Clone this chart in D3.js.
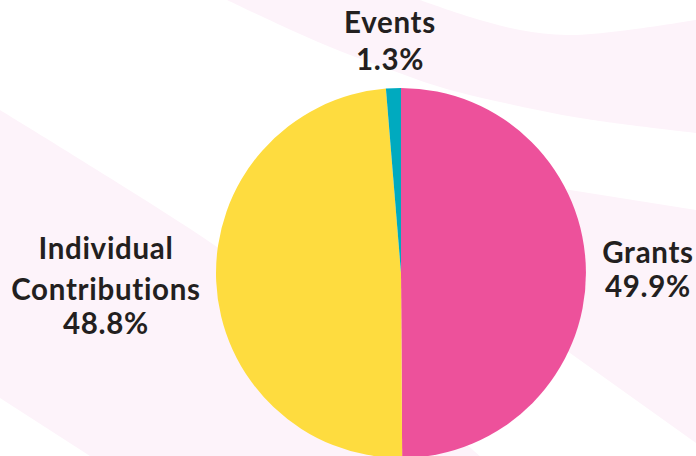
<!DOCTYPE html>
<html>
<head>
<meta charset="utf-8">
<script src="https://cdn.jsdelivr.net/npm/d3@7"></script>
<style>
html,body{margin:0;padding:0;background:#fff;}
svg{display:block;}
text{font-variant-ligatures:none;font-feature-settings:"liga" 0;}
</style>
</head>
<body>
<svg id="chart" width="696" height="456"></svg>
<script>
const categories = ["Grants", "Individual Contributions", "Events"];
const values = [49.9, 48.8, 1.3];
const valueLabels = ["49.9%", "48.8%", "1.3%"];
const colors = ["#ED519B", "#FEDC3F", "#00AABF"];

const W = 696, H = 456;
const svg = d3.select("#chart");

// decorative background swooshes
const bg = svg.append("g");
const bandColor = "#FDF3FA";
const curve = d3.line().curve(d3.curveCatmullRom);
const lower = [[227,0],[280,25],[330,47],[380,66],[440,87],[500,102],[580,118],[696,133]];
const upper = [[696,20],[620,31],[567,35],[520,30],[470,17],[420,0]];
bg.append("path").attr("fill", bandColor)
  .attr("d", curve(lower) + "L" + curve(upper).slice(1) + "Z");
bg.append("path").attr("fill", bandColor)
  .attr("d", curve([[0,110],[110,178],[217,247],[350,345],[480,456]]) + "L90,456L0,398Z");
bg.append("path").attr("fill", bandColor)
  .attr("d", "M450,171L570,190L696,210L696,443L570,353L450,268Z");

// pie
const cx = 401, cy = 273, R = 185;
const pie = d3.pie().sort(null).value(d => d);
const arc = d3.arc().innerRadius(0).outerRadius(R);
const g = svg.append("g").attr("transform", `translate(${cx},${cy})`);
g.selectAll("path").data(pie(values)).join("path")
  .attr("d", arc)
  .attr("fill", (d, i) => colors[i]);

// labels (one text element per label, lines as tspans)
const font = "Lato, 'Open Sans', sans-serif";
const labelSpecs = [
  {x: 648, lines: [["Grants", 263], [valueLabels[0], 297]]},
  {x: 106, lines: [["Individual", 259], ["Contributions", 300], [valueLabels[1], 334]]},
  {x: 390, lines: [["Events", 33], [valueLabels[2], 70]]}
];
labelSpecs.forEach(s => {
  const t = svg.append("text")
    .attr("text-anchor", "middle")
    .attr("font-family", font)
    .attr("font-weight", "bold")
    .attr("font-size", 29.5)
    .attr("letter-spacing", 0.7)
    .attr("fill", "#231F20");
  s.lines.forEach(([txt, y]) => {
    t.append("tspan").attr("x", s.x).attr("y", y).text(txt);
  });
});
</script>
</body>
</html>
